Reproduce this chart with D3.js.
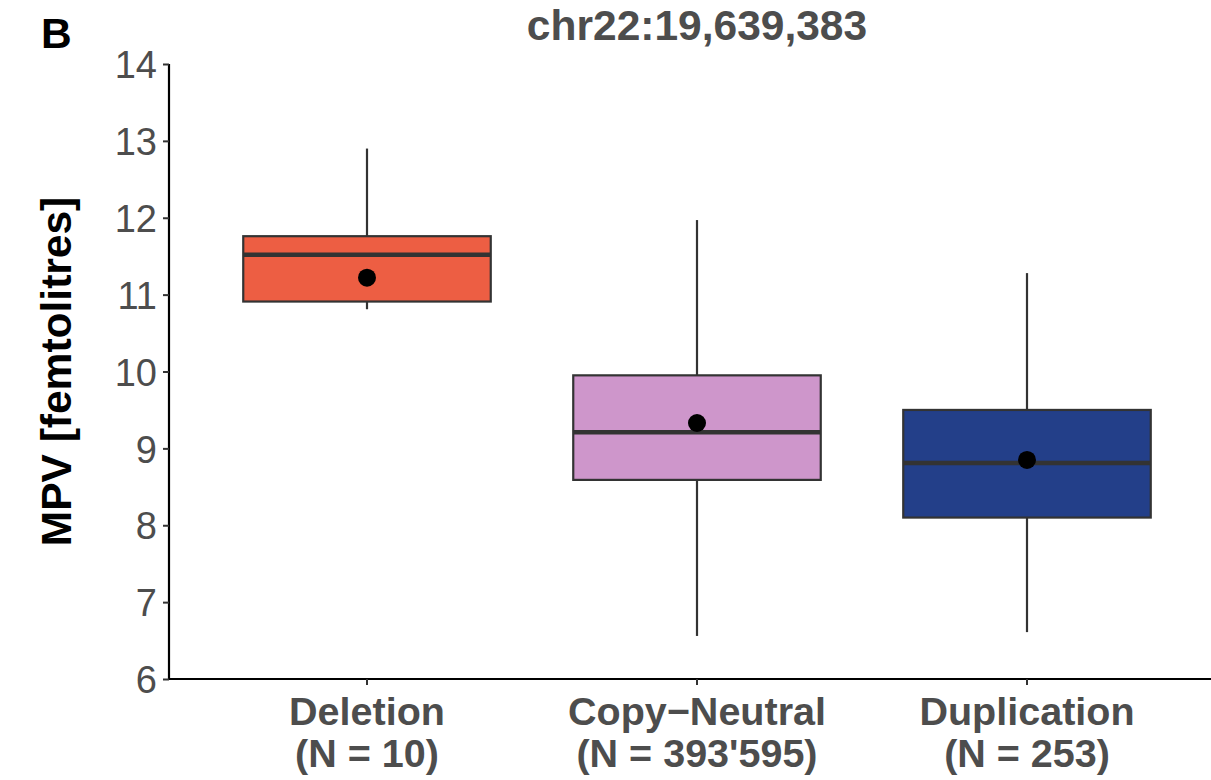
<!DOCTYPE html>
<html>
<head>
<meta charset="utf-8">
<script src="https://cdn.jsdelivr.net/npm/d3@7"></script>
<style>
  body { margin: 0; background: #fff; }
  svg { display: block; font-family: "Liberation Sans", Arial, Helvetica, sans-serif; }
</style>
</head>
<body>
<svg id="chart" width="1211" height="780"></svg>
<script>
// ---- data ----
const categories = ["Deletion", "Copy\u2212Neutral", "Duplication"];
const countLabels = ["(N = 10)", "(N = 393'595)", "(N = 253)"];
const whiskerLow = [10.81, 6.56, 6.61];
const q1 = [10.91, 8.59, 8.10];
const medians = [11.52, 9.21, 8.81];
const q3 = [11.76, 9.95, 9.50];
const whiskerHigh = [12.90, 11.97, 11.28];
const means = [11.22, 9.33, 8.85];
const fills = ["#ED5E43", "#CE96CB", "#233F89"];
const yTicks = [6, 7, 8, 9, 10, 11, 12, 13, 14];
const title = "chr22:19,639,383";
const yTitle = "MPV [femtolitres]";
const panelTag = "B";

(function () {
const svg = d3.select("#chart");
const pL = 169, pR = 1225, pT = 64, pB = 679;

const x = d3.scaleBand().domain(categories).range([pL, pR]).paddingInner(0).paddingOuter(0.1);
const y = d3.scaleLinear().domain([6, 14]).range([pB, pT]);
const boxW = x.step() * 0.75;
const cx = c => x(c) + x.bandwidth() / 2;

const rows = categories.map((c, i) => ({
  c, lo: whiskerLow[i], q1: q1[i], med: medians[i], q3: q3[i], hi: whiskerHigh[i], mean: means[i], fill: fills[i]
}));

const g = svg.append("g");
const box = g.selectAll("g.box").data(rows).enter().append("g");
box.append("line").attr("x1", d => cx(d.c)).attr("x2", d => cx(d.c))
  .attr("y1", d => y(d.q3)).attr("y2", d => y(d.hi)).attr("stroke", "#333").attr("stroke-width", 2.2);
box.append("line").attr("x1", d => cx(d.c)).attr("x2", d => cx(d.c))
  .attr("y1", d => y(d.q1)).attr("y2", d => y(d.lo)).attr("stroke", "#333").attr("stroke-width", 2.2);
box.append("rect").attr("x", d => cx(d.c) - boxW / 2).attr("width", boxW)
  .attr("y", d => y(d.q3)).attr("height", d => y(d.q1) - y(d.q3))
  .attr("fill", d => d.fill).attr("stroke", "#333").attr("stroke-width", 2.2);
box.append("line").attr("x1", d => cx(d.c) - boxW / 2).attr("x2", d => cx(d.c) + boxW / 2)
  .attr("y1", d => y(d.med)).attr("y2", d => y(d.med)).attr("stroke", "#333").attr("stroke-width", 4.5);
box.append("circle").attr("cx", d => cx(d.c)).attr("cy", d => y(d.mean)).attr("r", 9).attr("fill", "#000");

const yAxis = g.append("g").attr("transform", `translate(${pL},0)`)
  .call(d3.axisLeft(y).tickValues(yTicks).tickSize(6).tickPadding(6).tickFormat(d3.format("d")));
yAxis.select(".domain").attr("stroke", "#000").attr("stroke-width", 2.2).attr("d", `M0,${pB}V${pT}`);
yAxis.selectAll(".tick line").attr("stroke", "#333").attr("stroke-width", 2);
yAxis.selectAll(".tick text").attr("fill", "#4D4D4D").attr("font-size", 38).attr("dy", "0.36em");

const xAxis = g.append("g").attr("transform", `translate(0,${pB})`)
  .call(d3.axisBottom(x).tickSize(6).tickFormat(""));
xAxis.select(".domain").attr("stroke", "#000").attr("stroke-width", 2.2).attr("d", `M${pL},0H${pR}`);
xAxis.selectAll(".tick line").attr("stroke", "#333").attr("stroke-width", 2);
xAxis.selectAll(".tick").each(function (d, i) {
  const t = d3.select(this).append("text").attr("fill", "#4D4D4D").attr("font-size", 39.5)
    .attr("font-weight", "bold").attr("text-anchor", "middle");
  t.append("tspan").attr("x", 0).attr("y", 46).text(d);
  t.append("tspan").attr("x", 0).attr("y", 88).text(countLabels[i]);
});

svg.append("text").attr("x", (pL + pR) / 2).attr("y", 40).attr("text-anchor", "middle")
  .attr("font-size", 42.5).attr("font-weight", "bold").attr("fill", "#4D4D4D").text(title);
svg.append("text").attr("transform", `translate(71,${(pT + pB) / 2}) rotate(-90)`)
  .attr("text-anchor", "middle").attr("font-size", 42.5).attr("font-weight", "bold").attr("fill", "#000").text(yTitle);
svg.append("text").attr("x", 41).attr("y", 48).attr("font-size", 42.5).attr("font-weight", "bold").attr("fill", "#000").text(panelTag);
})();
</script>
</body>
</html>
